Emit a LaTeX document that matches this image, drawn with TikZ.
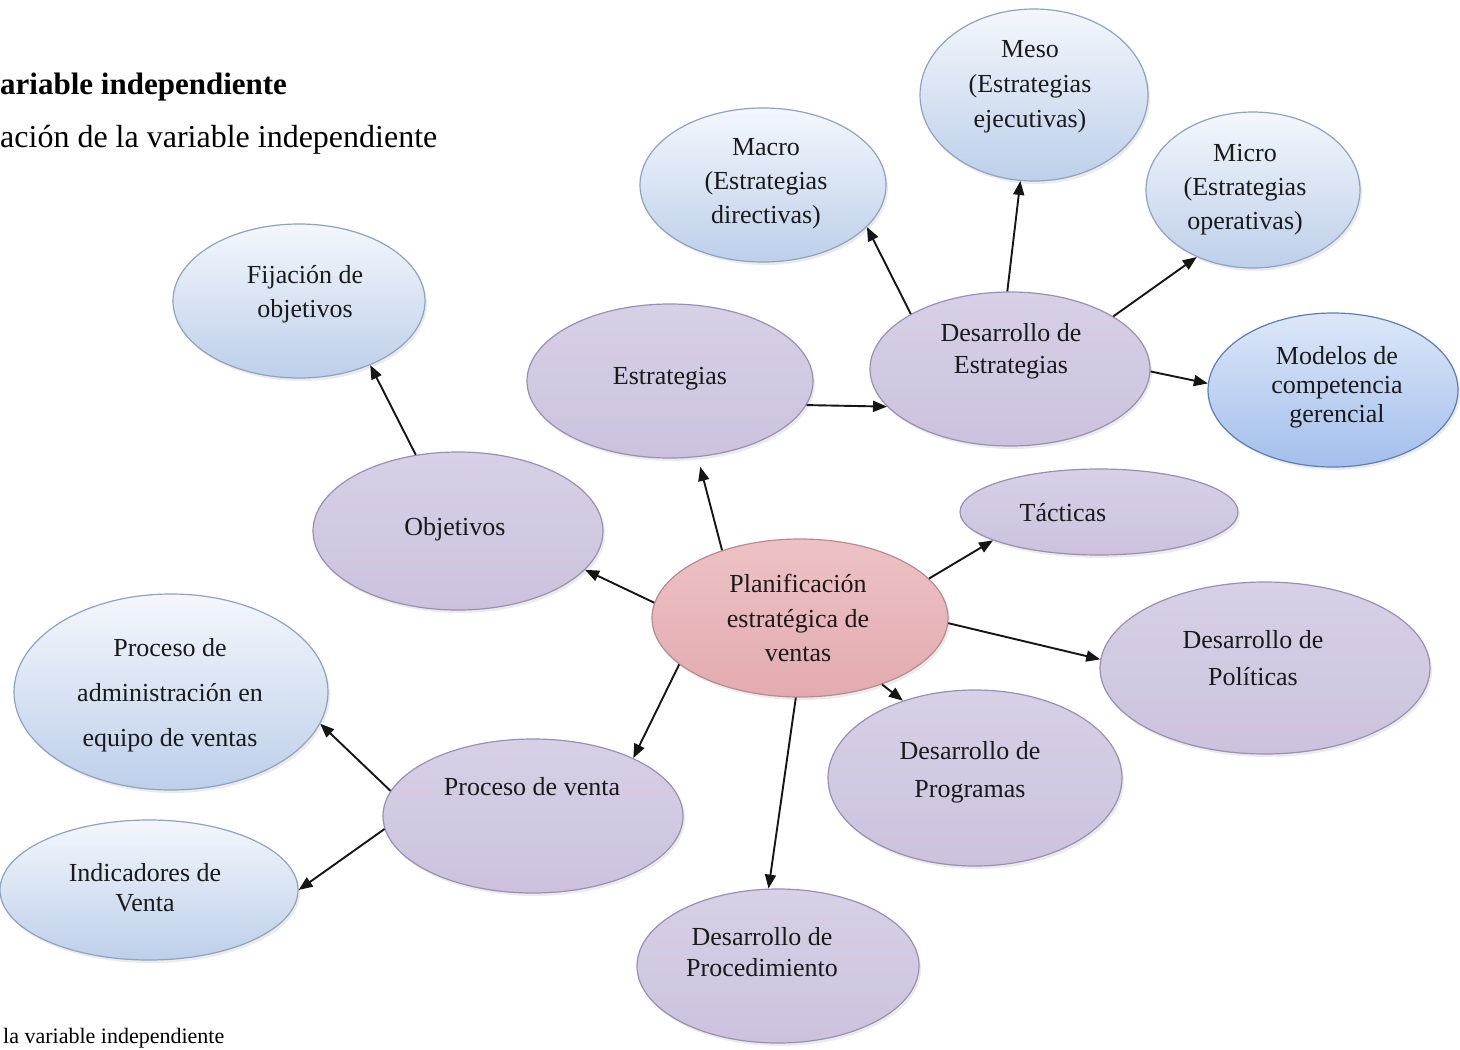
\documentclass[tikz,border=0pt]{standalone}
\usepackage{fontspec}
\setmainfont{Liberation Serif}
\usetikzlibrary{shapes.geometric,arrows.meta,shadows}

% palette
\definecolor{bluetop}{HTML}{F4F7FC}
\definecolor{bluebot}{HTML}{BDCFEA}
\definecolor{bluebd}{HTML}{8EA2C2}
\definecolor{strongtop}{HTML}{DDE7F8}
\definecolor{strongbot}{HTML}{A3BFEC}
\definecolor{strongbd}{HTML}{5A7FB6}
\definecolor{lavtop}{HTML}{D8D0E6}
\definecolor{lavmid}{HTML}{F1EEF6}
\definecolor{lavbot}{HTML}{CCC2DE}
\definecolor{lavbd}{HTML}{9A8FB2}
\definecolor{pinktop}{HTML}{EDC2C5}
\definecolor{pinkmid}{HTML}{F7E0E1}
\definecolor{pinkbot}{HTML}{E3ABB0}
\definecolor{pinkbd}{HTML}{B88A90}
\definecolor{txtc}{HTML}{1A1A1A}
\definecolor{arrc}{HTML}{151515}

\tikzset{
  bub/.style={ellipse, inner sep=0pt, line width=1.2pt,
    drop shadow={shadow xshift=2pt, shadow yshift=-3pt, opacity=0.16}},
  bluebub/.style={bub, draw=bluebd, top color=bluetop, bottom color=bluebot},
  strongbub/.style={bub, draw=strongbd, top color=strongtop, bottom color=strongbot},
  lavbub/.style={bub, draw=lavbd, top color=lavtop, middle color=lavmid, bottom color=lavbot},
  pinkbub/.style={bub, draw=pinkbd, top color=pinktop, middle color=pinkmid, bottom color=pinkbot},
  txt/.style={align=center, inner sep=0pt, text=txtc, font=\fontsize{26}{34}\selectfont},
  arr/.style={draw=arrc, line width=1.9pt, -{Triangle[length=14pt,width=11pt]}},
  plain/.style={inner sep=0pt, anchor=base west, text=black}
}

\begin{document}
\begin{tikzpicture}[x=1pt,y=-1pt]
\useasboundingbox (0,0) rectangle (1460,1050);

% page text
\node[plain, font=\fontsize{31}{36}\selectfont\bfseries] (head) at (0,94) {ariable independiente};
\node[plain, font=\fontsize{32}{36}\selectfont] (sub) at (0,147) {ación de la variable independiente};
\node[plain, font=\fontsize{22}{26}\selectfont] (foot) at (3,1043) {la variable independiente};

% bubbles
\node[bluebub, minimum width=252pt, minimum height=154pt] (fij) at (299,301) {};
\node[bluebub, minimum width=246pt, minimum height=154pt] (macro) at (763,185) {};
\node[bluebub, minimum width=228pt, minimum height=172pt] (meso) at (1034,95) {};
\node[bluebub, minimum width=214pt, minimum height=156pt] (micro) at (1253,190) {};
\node[lavbub, minimum width=280pt, minimum height=154pt] (desest) at (1010,369) {};
\node[strongbub, minimum width=250pt, minimum height=154pt] (modelos) at (1333,390) {};
\node[lavbub, minimum width=286pt, minimum height=154pt] (estr) at (670,381) {};
\node[lavbub, minimum width=290pt, minimum height=158pt] (obj) at (458,531) {};
\node[lavbub, minimum width=278pt, minimum height=86pt] (tact) at (1099,512) {};
\node[pinkbub, minimum width=296pt, minimum height=158pt] (plan) at (800,618) {};
\node[lavbub, minimum width=330pt, minimum height=172pt] (pol) at (1265,668) {};
\node[bluebub, minimum width=314pt, minimum height=196pt] (padm) at (171,692) {};
\node[lavbub, minimum width=294pt, minimum height=176pt] (prog) at (975,778) {};
\node[lavbub, minimum width=300pt, minimum height=154pt] (pventa) at (533,816) {};
\node[bluebub, minimum width=298pt, minimum height=140pt] (ind) at (149,890) {};
\node[lavbub, minimum width=282pt, minimum height=154pt] (proc) at (778,966) {};

% labels
\node[txt] (fij-t) at (305,294) {Fijación de\\objetivos};
\node[txt] (macro-t) at (766,184) {Macro\\(Estrategias\\directivas)};
\node[txt, font=\fontsize{26}{35}\selectfont] (meso-t) at (1030,87) {Meso\\(Estrategias\\ejecutivas)};
\node[txt] (micro-t) at (1245,190) {Micro\\(Estrategias\\operativas)};
\node[txt, font=\fontsize{26}{32}\selectfont] (desest-t) at (1011,351) {Desarrollo de\\Estrategias};
\node[txt, font=\fontsize{26}{29}\selectfont] (modelos-t) at (1337,387) {Modelos de\\competencia\\gerencial};
\node[txt] (estr-t) at (670,379) {Estrategias};
\node[txt] (obj-t) at (455,529) {Objetivos};
\node[txt] (tact-t) at (1063,513) {Tácticas};
\node[txt, font=\fontsize{26}{34.5}\selectfont] (plan-t) at (798,618) {Planificación\\estratégica de\\ventas};
\node[txt, font=\fontsize{26}{37}\selectfont] (pol-t) at (1253,658) {Desarrollo de\\Políticas};
\node[txt, font=\fontsize{26}{45}\selectfont] (padm-t) at (170,695) {Proceso de\\administración en\\equipo de ventas};
\node[txt, font=\fontsize{26}{38}\selectfont] (prog-t) at (970,772) {Desarrollo de\\Programas};
\node[txt] (pventa-t) at (532,787) {Proceso de venta};
\node[txt, font=\fontsize{26}{30}\selectfont] (ind-t) at (145,888) {Indicadores de\\Venta};
\node[txt, font=\fontsize{26}{31}\selectfont] (proc-t) at (762,952) {Desarrollo de\\Procedimiento};

% connectors
\draw[arr] (obj.119) -- (fij.-42);
\draw[arr] (plan.174) -- (obj.-17);
\draw[arr, shorten >=10pt] (plan.139) -- (estr.-70);
\draw[arr] (estr.-10) -- (desest.197);
\draw[arr] (desest.151) -- (macro.-22);
\draw[arr] (desest.92) -- (meso.-99);
\draw[arr] (desest.27) -- (micro.-130);
\draw[arr] (desest.-1) -- (modelos.177);
\draw[arr] (plan.17) -- (tact.195);
\draw[arr] (plan.-2) -- (pol.177);
\draw[arr] (plan.-39) -- (prog.133);
\draw[arr] (plan.-93) -- (proc.97);
\draw[arr] (plan.-159) -- (pventa.30);
\draw[arr] (pventa.170) -- (padm.-12);
\draw[arr] (pventa.-175) -- (ind.0);
\end{tikzpicture}
\end{document}
